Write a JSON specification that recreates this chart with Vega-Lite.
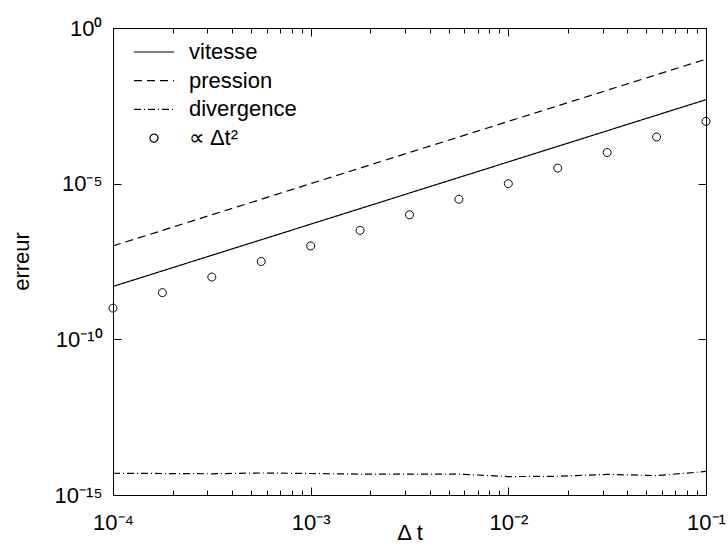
{
  "$schema": "https://vega.github.io/schema/vega-lite/v6.json",
  "width": 593,
  "height": 467,
  "autosize": {"type": "none"},
  "padding": {"left": 113, "top": 28, "right": 22, "bottom": 51},
  "background": "white",
  "config": {
    "view": {"stroke": "black", "strokeWidth": 1},
    "font": "Liberation Sans",
    "axis": {"domain": false, "grid": false, "tickColor": "black", "tickWidth": 1, "labelColor": "black", "titleColor": "black", "labelFont": "Liberation Sans", "titleFont": "Liberation Sans", "labelFontSize": 22, "titleFontSize": 22, "titleFontWeight": "normal", "labelFlush": false, "labelOverlap": false, "labelBound": false}
  },
  "datasets": {
    "lines": [
      {"dt": 0.0001, "err": 5e-9, "serie": "vitesse"},
      {"dt": 0.0001778, "err": 1.581e-8, "serie": "vitesse"},
      {"dt": 0.0003162, "err": 5e-8, "serie": "vitesse"},
      {"dt": 0.0005623, "err": 1.581e-7, "serie": "vitesse"},
      {"dt": 0.001, "err": 5e-7, "serie": "vitesse"},
      {"dt": 0.001778, "err": 1.581e-6, "serie": "vitesse"},
      {"dt": 0.003162, "err": 5e-6, "serie": "vitesse"},
      {"dt": 0.005623, "err": 1.581e-5, "serie": "vitesse"},
      {"dt": 0.01, "err": 5e-5, "serie": "vitesse"},
      {"dt": 0.01778, "err": 1.581e-4, "serie": "vitesse"},
      {"dt": 0.03162, "err": 5e-4, "serie": "vitesse"},
      {"dt": 0.05623, "err": 1.581e-3, "serie": "vitesse"},
      {"dt": 0.1, "err": 5e-3, "serie": "vitesse"},
      {"dt": 0.0001, "err": 1e-7, "serie": "pression"},
      {"dt": 0.0001778, "err": 3.162e-7, "serie": "pression"},
      {"dt": 0.0003162, "err": 1e-6, "serie": "pression"},
      {"dt": 0.0005623, "err": 3.162e-6, "serie": "pression"},
      {"dt": 0.001, "err": 1e-5, "serie": "pression"},
      {"dt": 0.001778, "err": 3.162e-5, "serie": "pression"},
      {"dt": 0.003162, "err": 1e-4, "serie": "pression"},
      {"dt": 0.005623, "err": 3.162e-4, "serie": "pression"},
      {"dt": 0.01, "err": 1e-3, "serie": "pression"},
      {"dt": 0.01778, "err": 3.162e-3, "serie": "pression"},
      {"dt": 0.03162, "err": 1e-2, "serie": "pression"},
      {"dt": 0.05623, "err": 3.162e-2, "serie": "pression"},
      {"dt": 0.1, "err": 1e-1, "serie": "pression"},
      {"dt": 0.0001, "err": 5.0e-15, "serie": "divergence"},
      {"dt": 0.0001778, "err": 4.9e-15, "serie": "divergence"},
      {"dt": 0.0003162, "err": 4.8e-15, "serie": "divergence"},
      {"dt": 0.0005623, "err": 5.1e-15, "serie": "divergence"},
      {"dt": 0.001, "err": 4.9e-15, "serie": "divergence"},
      {"dt": 0.001778, "err": 4.7e-15, "serie": "divergence"},
      {"dt": 0.003162, "err": 4.7e-15, "serie": "divergence"},
      {"dt": 0.005623, "err": 4.7e-15, "serie": "divergence"},
      {"dt": 0.01, "err": 3.9e-15, "serie": "divergence"},
      {"dt": 0.01778, "err": 4.0e-15, "serie": "divergence"},
      {"dt": 0.03162, "err": 4.6e-15, "serie": "divergence"},
      {"dt": 0.05623, "err": 4.2e-15, "serie": "divergence"},
      {"dt": 0.1, "err": 5.7e-15, "serie": "divergence"}
    ],
    "pts": [
      {"dt": 0.0001, "err": 1e-9, "serie": "∝ Δt²"},
      {"dt": 0.0001778, "err": 3.162e-9, "serie": "∝ Δt²"},
      {"dt": 0.0003162, "err": 1e-8, "serie": "∝ Δt²"},
      {"dt": 0.0005623, "err": 3.162e-8, "serie": "∝ Δt²"},
      {"dt": 0.001, "err": 1e-7, "serie": "∝ Δt²"},
      {"dt": 0.001778, "err": 3.162e-7, "serie": "∝ Δt²"},
      {"dt": 0.003162, "err": 1e-6, "serie": "∝ Δt²"},
      {"dt": 0.005623, "err": 3.162e-6, "serie": "∝ Δt²"},
      {"dt": 0.01, "err": 1e-5, "serie": "∝ Δt²"},
      {"dt": 0.01778, "err": 3.162e-5, "serie": "∝ Δt²"},
      {"dt": 0.03162, "err": 1e-4, "serie": "∝ Δt²"},
      {"dt": 0.05623, "err": 3.162e-4, "serie": "∝ Δt²"},
      {"dt": 0.1, "err": 1e-3, "serie": "∝ Δt²"}
    ]
  },
  "resolve": {"axis": {"x": "independent", "y": "independent"}},
  "layer": [
    {
      "data": {"name": "lines"},
      "mark": {"type": "line", "color": "black", "strokeWidth": 1.2, "clip": true},
      "encoding": {
        "x": {"field": "dt", "type": "quantitative", "scale": {"type": "log", "domain": [0.0001, 0.1], "nice": false},
          "axis": {"orient": "bottom", "values": [0.0001, 0.001, 0.01, 0.1], "tickSize": -8, "labelPadding": 42, "labelBaseline": "alphabetic",
            "labelExpr": "datum.value < 0.0005 ? '10⁻⁴' : datum.value < 0.005 ? '10⁻³' : datum.value < 0.05 ? '10⁻²' : '10⁻¹'",
            "title": "Δ t", "titleY": 44, "titleBaseline": "alphabetic"}},
        "y": {"field": "err", "type": "quantitative", "scale": {"type": "log", "domain": [1e-15, 1], "nice": false},
          "axis": {"orient": "left", "values": [1, 1e-5, 1e-10, 1e-15], "tickSize": -8, "labelPadding": 19, "labelBaseline": "middle",
            "labelExpr": "datum.value > 0.5 ? '10⁰' : datum.value > 1e-7 ? '10⁻⁵' : datum.value > 1e-12 ? '10⁻¹⁰' : '10⁻¹⁵'",
            "title": "erreur", "titleX": -92, "titleY": 233, "titleAngle": -90, "titleBaseline": "middle", "titleAlign": "center"}},
        "strokeDash": {"field": "serie", "type": "nominal",
          "scale": {"domain": ["vitesse", "pression", "divergence", "∝ Δt²"], "range": [[1, 0], [8, 5], [7, 3, 1, 3], [1, 0]]},
          "legend": {"orient": "none", "legendX": 20, "legendY": 11, "padding": 0, "title": null, "symbolSize": 1600, "clipHeight": 26, "rowPadding": 2.7, "labelOffset": 14, "labelFontSize": 22, "labelFont": "Liberation Sans", "labelColor": "black", "symbolStrokeColor": "black", "symbolStrokeWidth": 1.2, "symbolFillColor": "transparent"}}
      }
    },
    {
      "data": {"name": "pts"},
      "mark": {"type": "point", "filled": false, "color": "black", "strokeWidth": 1, "size": 1600, "opacity": 1},
      "encoding": {
        "x": {"field": "dt", "type": "quantitative", "axis": {"orient": "top", "values": [0.0001, 0.001, 0.01, 0.1], "tickSize": -8, "labels": false, "title": null}},
        "y": {"field": "err", "type": "quantitative", "axis": {"orient": "right", "values": [1, 1e-5, 1e-10, 1e-15], "tickSize": -8, "labels": false, "title": null}},
        "shape": {"field": "serie", "type": "nominal",
          "scale": {"domain": ["vitesse", "pression", "divergence", "∝ Δt²"], "range": ["stroke", "stroke", "stroke", "M -0.2 0 A 0.2 0.2 0 1 1 0.2 0 A 0.2 0.2 0 1 1 -0.2 0 Z"]},
          "legend": {"orient": "none", "legendX": 20, "legendY": 11, "padding": 0, "title": null, "symbolSize": 1600, "clipHeight": 26, "rowPadding": 2.7, "labelOffset": 14, "labelFontSize": 22, "labelFont": "Liberation Sans", "labelColor": "black", "symbolStrokeColor": "black", "symbolStrokeWidth": 1.2, "symbolFillColor": "transparent"}}
      }
    },
    {
      "data": {"name": "pts"},
      "mark": {"type": "point", "opacity": 0},
      "encoding": {
        "x": {"field": "dt", "type": "quantitative", "axis": {"orient": "bottom", "values": [0.0002, 0.0003, 0.0004, 0.0005, 0.0006, 0.0007, 0.0008, 0.0009, 0.002, 0.003, 0.004, 0.005, 0.006, 0.007, 0.008, 0.009, 0.02, 0.03, 0.04, 0.05, 0.06, 0.07, 0.08, 0.09], "tickSize": -5, "labels": false, "title": null}},
        "y": {"field": "err", "type": "quantitative", "axis": null}
      }
    },
    {
      "data": {"name": "pts"},
      "mark": {"type": "point", "opacity": 0},
      "encoding": {
        "x": {"field": "dt", "type": "quantitative", "axis": {"orient": "top", "values": [0.0002, 0.0003, 0.0004, 0.0005, 0.0006, 0.0007, 0.0008, 0.0009, 0.002, 0.003, 0.004, 0.005, 0.006, 0.007, 0.008, 0.009, 0.02, 0.03, 0.04, 0.05, 0.06, 0.07, 0.08, 0.09], "tickSize": -5, "labels": false, "title": null}},
        "y": {"field": "err", "type": "quantitative", "axis": null}
      }
    }
  ]
}
